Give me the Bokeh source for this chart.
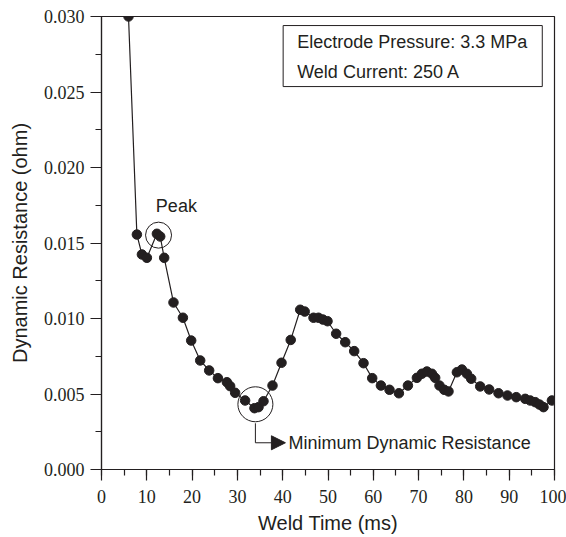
import numpy as np
from bokeh.plotting import figure
from bokeh.models import (SingleIntervalTicker, NumeralTickFormatter, Range1d,
                          Arrow, NormalHead, Label)
from bokeh.embed import file_html
from bokeh.resources import INLINE

# ---------------- data ----------------
weld_time_ms = [5.96, 7.81, 8.92, 10.02, 12.23, 12.96, 13.84, 15.89, 17.97, 19.80,
                21.79, 23.77, 25.70, 27.68, 28.40, 29.50, 31.70, 33.77, 34.66, 35.76,
                37.75, 39.74, 41.77, 43.86, 44.86, 46.80, 47.90, 48.87, 49.89, 51.80,
                53.80, 55.78, 57.84, 59.76, 61.68, 63.58, 65.65, 67.64, 69.62, 70.73,
                71.83, 72.94, 73.66, 74.61, 75.65, 76.60, 78.45, 79.56, 80.66, 81.61,
                83.60, 85.58, 87.64, 89.62, 91.55, 93.53, 94.64, 95.74, 96.69, 97.57,
                99.43]
dyn_resistance_ohm = [0.0300, 0.01556, 0.01424, 0.01402, 0.01561, 0.01543, 0.01402, 0.01106,
                      0.01005, 0.00854, 0.00722, 0.00656, 0.00605, 0.00578, 0.00552, 0.00508,
                      0.00457, 0.00406, 0.00413, 0.00452, 0.00556, 0.00707, 0.00858, 0.01058,
                      0.01046, 0.01005, 0.01005, 0.00993, 0.00982, 0.00899, 0.00843, 0.00784,
                      0.00704, 0.00605, 0.00556, 0.00528, 0.00505, 0.00556, 0.00607, 0.00634,
                      0.00649, 0.00634, 0.00607, 0.00556, 0.00528, 0.00517, 0.00644, 0.00662,
                      0.00634, 0.00601, 0.00550, 0.00530, 0.00505, 0.00490, 0.00479, 0.00468,
                      0.00457, 0.00446, 0.00430, 0.00413, 0.00457]

x_label = "Weld Time (ms)"
y_label = "Dynamic Resistance (ohm)"
info_lines = ["Electrode Pressure: 3.3 MPa", "Weld Current: 250 A"]
peak_text = "Peak"
min_text = "Minimum Dynamic Resistance"

# annotation placement (data coordinates)
info_box = dict(left=40.1, right=97.3, top=0.0294, bottom=0.02536)
info_text_x = 43.2
info_text_y = [0.02830, 0.02631]
peak_text_pos = (12.0, 0.01742)
min_label_pos = (41.3, 0.00177)
min_circle_bottom = 0.00306

INK = "#231f20"
SANS = "Liberation Sans"
SERIF = "Times New Roman"

t = np.array(weld_time_ms)
r = np.array(dyn_resistance_ohm)

p = figure(width=566, height=537, output_backend="svg", toolbar_location=None,
           x_range=Range1d(0, 100), y_range=Range1d(0, 0.030),
           min_border_left=101, min_border_right=12, min_border_top=16,
           min_border_bottom=68)
p.background_fill_color = "white"
p.border_fill_color = "white"
p.outline_line_color = INK
p.outline_line_width = 1.2
p.xgrid.visible = False
p.ygrid.visible = False

# axes
p.xaxis.ticker = SingleIntervalTicker(interval=10, num_minor_ticks=2)
p.yaxis.ticker = SingleIntervalTicker(interval=0.005, num_minor_ticks=2)
p.yaxis.formatter = NumeralTickFormatter(format="0.000")
p.xaxis.formatter = NumeralTickFormatter(format="0")
p.xaxis.axis_label = x_label
p.yaxis.axis_label = y_label
p.axis.axis_line_color = INK
p.axis.axis_line_width = 1.2
p.axis.major_tick_line_color = INK
p.axis.minor_tick_line_color = INK
p.axis.major_tick_line_width = 1.2
p.axis.minor_tick_line_width = 1.2
p.axis.major_tick_out = 11
p.axis.major_tick_in = 0
p.axis.minor_tick_out = 6
p.axis.minor_tick_in = 0
p.axis.major_label_text_font = SERIF
p.axis.major_label_text_font_size = "18px"
p.axis.major_label_text_color = INK
p.axis.axis_label_text_font = SANS
p.axis.axis_label_text_font_size = "20px"
p.axis.axis_label_text_font_style = "normal"
p.axis.axis_label_text_color = INK
p.xaxis.major_label_standoff = 9
p.yaxis.major_label_standoff = 6
p.xaxis.axis_label_standoff = 6
p.yaxis.axis_label_standoff = 10

# data
p.line(t, r, line_color=INK, line_width=1.2)
p.scatter(t, r, size=9.5, marker="circle", fill_color=INK, line_color=INK)

# peak annotation
sel = t > 10
pk = np.argmax(np.where(sel, r, -1))
peak_x = (t[pk] + t[pk + 1]) / 2
peak_y = (r[pk] + r[pk + 1]) / 2
p.scatter([peak_x], [peak_y], size=26, marker="circle", fill_color=None,
          line_color=INK, line_width=1)
p.add_layout(Label(x=peak_text_pos[0], y=peak_text_pos[1], text=peak_text,
                   text_font=SANS, text_font_size="18px", text_color=INK,
                   text_baseline="middle", text_align="left"))

# minimum annotation
mn = int(np.argmin(np.where((t > 20) & (t < 50), r, 1)))
min_x = t[mn - 1:mn + 3].mean()
min_y = r[mn - 1:mn + 3].mean()
p.scatter([min_x], [min_y], size=35, marker="circle", fill_color=None,
          line_color=INK, line_width=1)
p.line([min_x, min_x], [min_circle_bottom, min_label_pos[1]], line_color=INK, line_width=1)
p.add_layout(Arrow(end=NormalHead(size=14, fill_color=INK, line_color=INK),
                   x_start=min_x, y_start=min_label_pos[1],
                   x_end=min_label_pos[0] - 0.7, y_end=min_label_pos[1],
                   line_color=INK, line_width=1))
p.add_layout(Label(x=min_label_pos[0], y=min_label_pos[1], text=min_text,
                   text_font=SANS, text_font_size="18px", text_color=INK,
                   text_baseline="middle", text_align="left"))

# info box
p.quad(left=[info_box["left"]], right=[info_box["right"]], top=[info_box["top"]],
       bottom=[info_box["bottom"]], fill_color="white", line_color=INK, line_width=1)
for yy, txt in zip(info_text_y, info_lines):
    p.add_layout(Label(x=info_text_x, y=yy, text=txt, text_font=SANS,
                       text_font_size="18px", text_color=INK,
                       text_baseline="middle", text_align="left"))

open("out.html", "w").write(file_html(p, INLINE))
